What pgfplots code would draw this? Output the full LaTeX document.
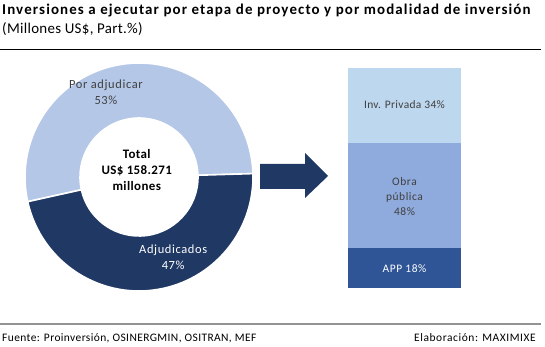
\documentclass[border=0pt]{standalone}
\usepackage{pgfplots}
\pgfplotsset{compat=1.18}
\usepackage{pgfplotstable}
\usepackage{fontspec}
\setmainfont{Carlito}
\definecolor{lightdonut}{HTML}{B4C7E7}
\definecolor{darkdonut}{HTML}{1F3864}
\definecolor{arrowc}{HTML}{1F3864}
\definecolor{appc}{HTML}{2F5597}
\definecolor{obrac}{HTML}{8FAADC}
\definecolor{invc}{HTML}{BDD7EE}
\definecolor{txt}{HTML}{404040}
\pgfplotstableread{
etapa part
Poradjudicar 53
Adjudicados 47
}\donutdata
\pgfplotstableread{
x app obra inv
0 18 48 34
}\bardata
\begin{document}
\begin{tikzpicture}
\useasboundingbox (0bp,0bp) rectangle (545bp,347bp);
% titles
\node[anchor=base west, inner sep=0pt, font=\bfseries\fontsize{15}{18}\selectfont\addfontfeature{LetterSpace=7.5}] at (2bp,332bp) {Inversiones a ejecutar por etapa de proyecto y por modalidad de inversión};
\node[anchor=base west, inner sep=0pt, font=\fontsize{15}{18}\selectfont\addfontfeature{LetterSpace=2}] at (2bp,313bp) {(Millones US\$, Part.\%)};
\draw[black, line width=0.9bp] (0bp,298bp) -- (541bp,298bp);
% footer
\draw[gray!85, line width=2bp] (0bp,23bp) -- (541bp,23bp);
\node[anchor=base west, inner sep=0pt, font=\fontsize{11.5}{13}\selectfont\addfontfeature{LetterSpace=3.5}] at (2bp,6bp) {Fuente: Proinversión, OSINERGMIN, OSITRAN, MEF};
\node[anchor=base east, inner sep=0pt, font=\fontsize{11.5}{13}\selectfont\addfontfeature{LetterSpace=5}] at (536bp,6bp) {Elaboración: MAXIMIXE};
% donut
\pgfplotstablegetelem{0}{part}\of\donutdata \let\valA\pgfplotsretval
\pgfplotstablegetelem{1}{part}\of\donutdata \let\valB\pgfplotsretval
\pgfmathsetmacro{\sB}{192.5}
\pgfmathsetmacro{\eB}{\sB+3.6*\valB}
\pgfmathsetmacro{\eA}{\sB}
\pgfmathsetmacro{\sA}{\eB-360}
\begin{axis}[at={(139bp,170bp)}, anchor=center, scale only axis, width=228bp, height=228bp,
  xmin=-1, xmax=1, ymin=-1, ymax=1, hide axis, clip=false]
\fill[lightdonut, draw=white, line width=1.6bp] (axis cs:0,0) ++(\sA:114bp) arc[start angle=\sA, end angle=\eA, radius=114bp] -- ++({\eA+180}:55bp) arc[start angle=\eA, end angle=\sA, radius=59bp] -- cycle;
\fill[darkdonut, draw=white, line width=1.6bp] (axis cs:0,0) ++(\sB:114bp) arc[start angle=\sB, end angle=\eB, radius=114bp] -- ++({\eB+180}:55bp) arc[start angle=\eB, end angle=\sB, radius=59bp] -- cycle;
\node[font=\fontsize{12.5}{15}\selectfont\addfontfeature{LetterSpace=5}, text=txt, align=center, inner sep=0pt] at (axis cs:-0.29,0.745) {Por adjudicar\\[1pt]\valA\%};
\node[font=\fontsize{12.5}{15}\selectfont\addfontfeature{LetterSpace=5}, text=white, align=center, inner sep=0pt] at (axis cs:0.30,-0.705) {Adjudicados\\[1pt]\valB\%};
\node[font=\bfseries\fontsize{13}{16}\selectfont\addfontfeature{LetterSpace=3}, text=black, align=center, inner sep=0pt] at (axis cs:-0.02,0.065) {Total\\US\$ 158.271\\millones};
\end{axis}
% arrow
\fill[arrowc] (260bp,183bp) -- (305bp,183bp) -- (305bp,194bp) -- (328bp,171bp) -- (305bp,149bp) -- (305bp,158bp) -- (260bp,158bp) -- cycle;
% stacked bar
\begin{axis}[at={(348bp,59bp)}, anchor=south west, scale only axis, width=113bp, height=220bp,
  xmin=-0.5, xmax=0.5, ymin=0, ymax=100, hide axis, ybar stacked, bar width=113bp, clip=false]
\addplot[fill=appc, draw=none] table[x=x, y=app] {\bardata};
\addplot[fill=obrac, draw=none] table[x=x, y=obra] {\bardata};
\addplot[fill=invc, draw=none] table[x=x, y=inv] {\bardata};
\end{axis}
\node[font=\fontsize{11.5}{13}\selectfont\addfontfeature{LetterSpace=5}, text=white] at (404.5bp,78bp) {APP 18\%};
\node[font=\fontsize{11.5}{15}\selectfont\addfontfeature{LetterSpace=5}, text=txt, align=center] at (404.5bp,150bp) {Obra\\pública\\48\%};
\node[font=\fontsize{11.5}{13}\selectfont\addfontfeature{LetterSpace=3}, text=txt] at (404.5bp,242bp) {Inv. Privada 34\%};
\end{tikzpicture}
\end{document}
